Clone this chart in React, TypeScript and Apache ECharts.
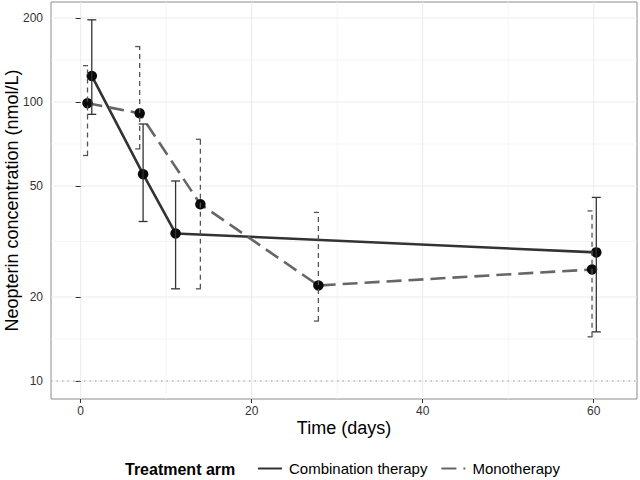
import React, { useEffect, useRef } from "react";
import * as echarts from "echarts";

// ---- data ----
const comboDays = [1.3, 7.3, 11.1, 60.3];
const comboMean = [124, 55.1, 33.8, 28.9];
const comboLow = [90.3, 37.3, 21.4, 15.0];
const comboHigh = [197, 83.4, 52.1, 45.5];

const monoDays = [0.8, 6.9, 14.0, 27.8, 59.8];
const monoMean = [99, 91.1, 43, 22.0, 25.1];
const monoLow = [64.3, 67.9, 21.4, 16.4, 14.4];
const monoHigh = [135, 158, 73.5, 40.2, 40.7];

const yTicks = [10, 20, 50, 100, 200];
const yMinorGrid = [14.14, 31.62, 70.71, 141.4];
const xTicks = [0, 20, 40, 60];
const xMinorGrid = [10, 30, 50];
const referenceLevel = 10;

const seriesNames = ["Combination therapy", "Monotherapy"];
const legendTitle = "Treatment arm";
const xTitle = "Time (days)";
const yTitle = "Neopterin concentration (nmol/L)";

const FONT = "'Liberation Sans', Arial, Helvetica, sans-serif";
const L = (v: number) => Math.log10(v);

export default function App() {
  const ref = useRef<HTMLDivElement>(null);
  useEffect(() => {
    if (!ref.current) return;
    const chart = echarts.init(ref.current, undefined, { renderer: "svg" });

    const yMin = 0.9355;
    const yMax = 2.3584;
    const xMin = -3.47;
    const xMax = 65.06;

    const hGridData = [
      ...yTicks.map((v) => [0, L(v), 1]),
      ...yMinorGrid.map((v) => [0, L(v), 0]),
    ];
    const vGridData = [
      ...xTicks.map((v) => [v, 1.5, 1]),
      ...xMinorGrid.map((v) => [v, 1.5, 0]),
    ];

    const errData = (days: number[], lo: number[], hi: number[]) =>
      days.map((d, i) => [d, L(lo[i]), L(hi[i])]);

    const errRender = (color: string, dash: number[] | null) =>
      (params: any, api: any) => {
        const x = api.value(0);
        const pLo = api.coord([x, api.value(1)]);
        const pHi = api.coord([x, api.value(2)]);
        const half = 4.5;
        const style: any = { stroke: color, lineWidth: 1.3, fill: null };
        if (dash) style.lineDash = dash;
        return {
          type: "group",
          children: [
            { type: "line", shape: { x1: pLo[0], y1: pLo[1], x2: pHi[0], y2: pHi[1] }, style },
            { type: "line", shape: { x1: pHi[0] - half, y1: pHi[1], x2: pHi[0] + half, y2: pHi[1] }, style },
            { type: "line", shape: { x1: pLo[0] - half, y1: pLo[1], x2: pLo[0] + half, y2: pLo[1] }, style },
          ],
        };
      };

    const option: any = {
      animation: false,
      textStyle: { fontFamily: FONT },
      grid: {
        left: 51,
        top: 2,
        right: 3,
        bottom: 81,
        containLabel: false,
        outerBoundsMode: "none",
        show: true,
        borderColor: "#8c8c8c",
        borderWidth: 1,
        backgroundColor: "#fff",
      },
      xAxis: {
        type: "value",
        min: xMin,
        max: xMax,
        name: xTitle,
        nameLocation: "middle",
        nameGap: 20,
        nameMoveOverlap: false,
        nameTextStyle: { fontSize: 18, color: "#000", fontFamily: FONT },
        axisLine: { show: false },
        axisTick: { show: true, length: 4, customValues: xTicks, lineStyle: { color: "#333" } },
        axisLabel: {
          customValues: xTicks,
          fontSize: 12,
          color: "#333",
          margin: 6,
          fontFamily: FONT,
          formatter: (v: number) => String(Math.round(v)),
        },
        splitLine: { show: false },
      },
      yAxis: {
        type: "value",
        min: yMin,
        max: yMax,
        name: yTitle,
        nameLocation: "middle",
        nameGap: 30,
        nameMoveOverlap: false,
        nameTextStyle: { fontSize: 18, color: "#000", fontFamily: FONT },
        axisLine: { show: false },
        axisTick: { show: true, length: 5, customValues: yTicks.map(L), lineStyle: { color: "#333" } },
        axisLabel: {
          customValues: yTicks.map(L),
          fontSize: 12,
          color: "#333",
          margin: 8,
          fontFamily: FONT,
          formatter: (v: number) => String(Math.round(Math.pow(10, v))),
        },
        splitLine: { show: false },
      },
      legend: {
        data: seriesNames,
        left: 257,
        top: 461,
        padding: 0,
        itemWidth: 24,
        itemHeight: 16,
        itemGap: 13,
        itemStyle: { opacity: 0 },
        textStyle: { fontSize: 15, color: "#000", fontFamily: FONT, padding: [0, 0, 0, 2] },
      },
      graphic: [
        {
          type: "text",
          left: 125,
          top: 461,
          style: {
            text: legendTitle,
            fontSize: 16,
            fontWeight: "bold",
            fill: "#000",
            fontFamily: FONT,
          },
        },
      ],
      series: [
        {
          type: "custom",
          name: "hgrid",
          silent: true,
          z: 0,
          data: hGridData,
          encode: { x: 0, y: 1 },
          renderItem: (params: any, api: any) => {
            const cs = params.coordSys;
            const y = api.coord([0, api.value(1)])[1];
            const major = api.value(2) === 1;
            return {
              type: "line",
              shape: { x1: cs.x, y1: y, x2: cs.x + cs.width, y2: y },
              style: { stroke: major ? "#ebebeb" : "#f3f3f3", lineWidth: major ? 1 : 0.8 },
            };
          },
        },
        {
          type: "custom",
          name: "vgrid",
          silent: true,
          z: 0,
          data: vGridData,
          encode: { x: 0, y: 1 },
          renderItem: (params: any, api: any) => {
            const cs = params.coordSys;
            const x = api.coord([api.value(0), 1.5])[0];
            const major = api.value(2) === 1;
            return {
              type: "line",
              shape: { x1: x, y1: cs.y, x2: x, y2: cs.y + cs.height },
              style: { stroke: major ? "#ebebeb" : "#f3f3f3", lineWidth: major ? 1 : 0.8 },
            };
          },
        },
        {
          type: "custom",
          name: "refline",
          silent: true,
          z: 1,
          data: [[0, L(referenceLevel)]],
          encode: { x: 0, y: 1 },
          renderItem: (params: any, api: any) => {
            const cs = params.coordSys;
            const y = api.coord([0, api.value(1)])[1];
            return {
              type: "line",
              shape: { x1: cs.x, y1: y, x2: cs.x + cs.width, y2: y },
              style: { stroke: "#a0a0a0", lineWidth: 1, lineDash: [1.5, 4] },
            };
          },
        },
        {
          type: "line",
          name: seriesNames[0],
          z: 2,
          symbol: "none",
          data: comboDays.map((d, i) => [d, L(comboMean[i])]),
          lineStyle: { color: "#333333", width: 2.6 },
          itemStyle: { color: "#333333" },
        },
        {
          type: "line",
          name: seriesNames[1],
          z: 2,
          symbol: "none",
          data: monoDays.map((d, i) => [d, L(monoMean[i])]),
          lineStyle: { color: "#666666", width: 2.6, type: [15, 7] },
          itemStyle: { color: "#666666" },
        },
        {
          type: "scatter",
          name: "comboPts",
          z: 3,
          symbolSize: 10.5,
          data: comboDays.map((d, i) => [d, L(comboMean[i])]),
          itemStyle: { color: "#0a0a0a", opacity: 1 },
        },
        {
          type: "scatter",
          name: "monoPts",
          z: 3,
          symbolSize: 10.5,
          data: monoDays.map((d, i) => [d, L(monoMean[i])]),
          itemStyle: { color: "#0a0a0a", opacity: 1 },
        },
        {
          type: "custom",
          name: "comboErr",
          z: 4,
          silent: true,
          data: errData(comboDays, comboLow, comboHigh),
          encode: { x: 0, y: [1, 2] },
          renderItem: errRender("#333333", null),
        },
        {
          type: "custom",
          name: "monoErr",
          z: 4,
          silent: true,
          data: errData(monoDays, monoLow, monoHigh),
          encode: { x: 0, y: [1, 2] },
          renderItem: errRender("#555555", [5, 4]),
        },
      ],
    };

    chart.setOption(option);
    return () => chart.dispose();
  }, []);

  return (
    <div
      ref={ref}
      style={{ position: "fixed", left: 0, top: 0, width: 640, height: 480, background: "#fff" }}
    />
  );
}
